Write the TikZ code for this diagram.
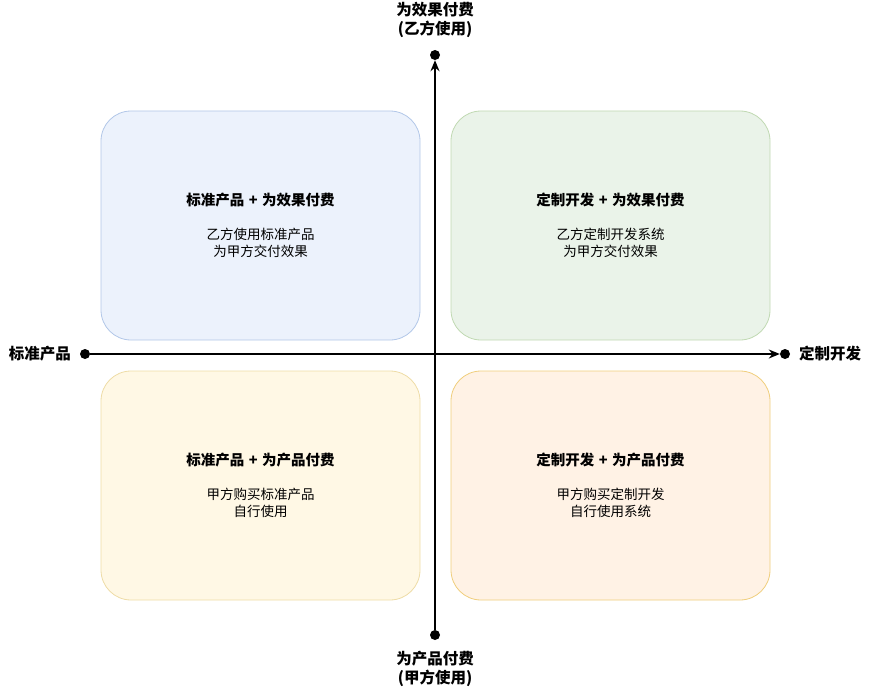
\documentclass[tikz,border=0pt]{standalone}
\usepackage{fontspec}
\setmainfont{Noto Sans CJK SC}
\usepackage{xcolor}
\usetikzlibrary{positioning, arrows.meta}

\definecolor{blueFill}{HTML}{ECF2FC}
\definecolor{blueLine}{HTML}{B2C7E8}
\definecolor{greenFill}{HTML}{EAF3E9}
\definecolor{greenLine}{HTML}{C0D9B2}
\definecolor{yellowFill}{HTML}{FFF8E5}
\definecolor{yellowLine}{HTML}{EEDCA6}
\definecolor{orangeFill}{HTML}{FFF2E5}
\definecolor{orangeLine}{HTML}{F0CE7C}

\newcommand{\plusgap}{\hspace{4.5pt}+\hspace{4.5pt}}

\begin{document}
\begin{tikzpicture}[
    x=1pt, y=-1pt,
    quad/.style={rectangle, rounded corners=30pt, draw, line width=0.8pt, align=center,
                 minimum width=319pt, minimum height=229pt, inner sep=0pt,
                 font=\fontsize{13.5}{17}\selectfont},
    dot/.style={circle, fill=black, inner sep=0pt, minimum size=10pt},
    axlbl/.style={font=\fontsize{15.5}{19}\selectfont\bfseries, align=center},
    arr/.style={-{Stealth[length=11pt, width=9pt, inset=3.5pt]}, line width=1.5pt}
]
\useasboundingbox (0,0) rectangle (870,690);

% quadrants
\node[quad, fill=blueFill, draw=blueLine] (stdeff) at (260.5,225.5)
    {{\fontsize{14.5}{17}\selectfont\bfseries 标准产品\plusgap{}为效果付费}\\[17pt]
     乙方使用标准产品\\ 为甲方交付效果};
\node[quad, fill=greenFill, draw=greenLine] (cuseff) at (610.5,225.5)
    {{\fontsize{14.5}{17}\selectfont\bfseries 定制开发\plusgap{}为效果付费}\\[17pt]
     乙方定制开发系统\\ 为甲方交付效果};
\node[quad, fill=yellowFill, draw=yellowLine] (stdprod) at (260.5,485.5)
    {{\fontsize{14.5}{17}\selectfont\bfseries 标准产品\plusgap{}为产品付费}\\[17pt]
     甲方购买标准产品\\ 自行使用};
\node[quad, fill=orangeFill, draw=orangeLine] (cusprod) at (610.5,485.5)
    {{\fontsize{14.5}{17}\selectfont\bfseries 定制开发\plusgap{}为产品付费}\\[17pt]
     甲方购买定制开发\\ 自行使用系统};

% axes
\node[dot] (top) at (435,55) {};
\node[dot] (bot) at (435,635) {};
\node[dot] (lft) at (85,354) {};
\node[dot] (rgt) at (785,354) {};
\draw[arr] (bot) -- (top);
\draw[arr] (lft) -- (rgt);

\node[axlbl] (toplbl) at (435,20) {为效果付费\\(乙方使用)};
\node[axlbl] (botlbl) at (435,669) {为产品付费\\(甲方使用)};
\node[axlbl] (lftlbl) at (40,354) {标准产品};
\node[axlbl] (rgtlbl) at (830,354) {定制开发};
\end{tikzpicture}
\end{document}
